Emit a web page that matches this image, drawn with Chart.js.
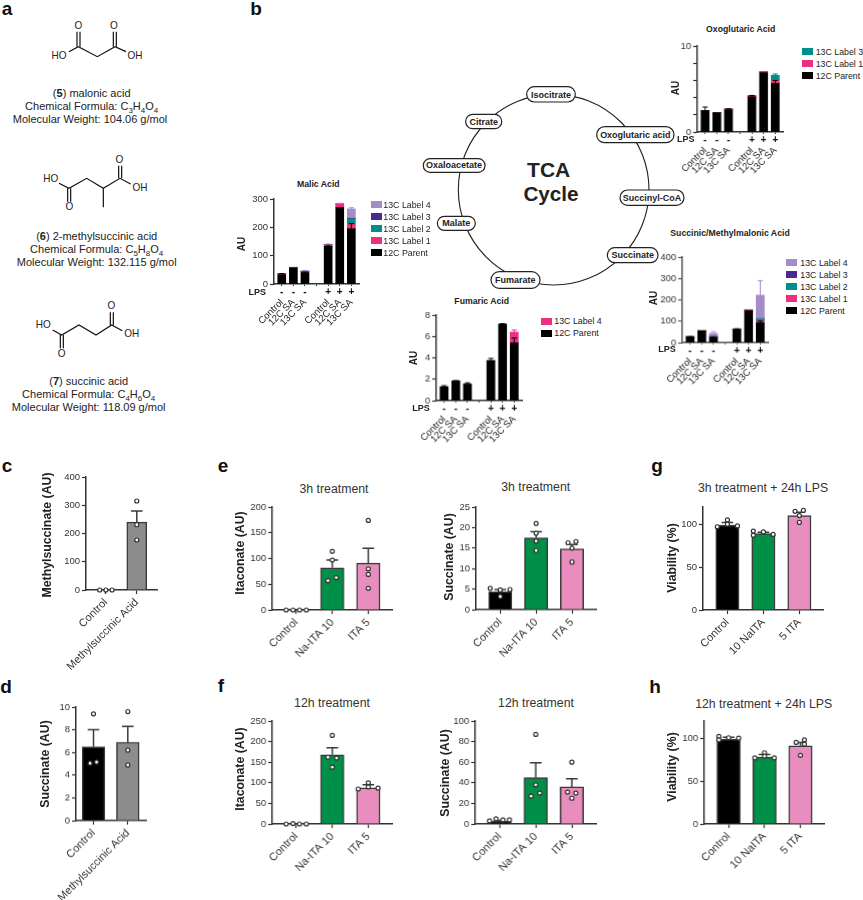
<!DOCTYPE html>
<html>
<head>
<meta charset="utf-8">
<title>Figure</title>
<script src="https://cdn.jsdelivr.net/npm/chart.js@4.4.1/dist/chart.umd.min.js"></script>
<style>
  html, body { margin: 0; padding: 0; background: #fff; overflow: hidden; }
  #page { position: relative; width: 863px; height: 900px; overflow: hidden; font-family: "Liberation Sans", Arial, sans-serif; color: #222; }
  #page canvas { position: absolute; }
  #page svg { position: absolute; left: 0; top: 0; }
  svg text { font-family: "Liberation Sans", Arial, sans-serif; text-anchor: middle; dominant-baseline: central; fill: #222; }
  .lbl { position: absolute; white-space: nowrap; line-height: 1; transform: translate(-50%, -50%); }
  .lbl sub { font-size: 8px; line-height: 0; }
  .swatch { position: absolute; width: 10.5px; height: 7px; }
</style>
</head>
<body>
<div id="page">
  <svg width="863" height="900" viewBox="0 0 863 900">
    <!-- a: структуры, координаты в масштабе 3x -->
    <g transform="scale(0.33333)" fill="none" stroke="#111" stroke-width="3.6">
      <polyline points="207,155 235,140 292,170 345,140 378,155"/>
      <path d="M231,140V95M240,140V95M340,140V95M349,140V95"/>
      <polyline points="177,550 207,565 260,535 310,565 360,535 392,552"/>
      <path d="M203,565V605M212,565V605M356,535V497M365,535V497M310,565V622"/>
      <polyline points="158,990 185,1005 237,975 288,1005 335,975 367,992"/>
      <path d="M181,1005V1045M190,1005V1045M331,975V937M340,975V937"/>
      <g stroke="none" font-size="30">
        <text x="177" y="168">HO</text><text x="405" y="168">OH</text>
        <text x="235" y="76">O</text><text x="342" y="76">O</text>
        <text x="152" y="535">HO</text><text x="420" y="564">OH</text>
        <text x="208" y="621">O</text><text x="358" y="478">O</text>
        <text x="130" y="975">HO</text><text x="395" y="1002">OH</text>
        <text x="185" y="1060">O</text><text x="334" y="918">O</text>
      </g>
    </g>
    <!-- b: цикл TCA -->
    <g transform="translate(420,70) scale(0.33333)">
      <circle cx="401" cy="359" r="286" fill="none" stroke="#222" stroke-width="3.4"/>
      <g fill="#fff" stroke="#222" stroke-width="3.6">
        <rect x="320" y="50" width="146" height="46" rx="23"/>
        <rect x="137" y="133" width="108" height="43" rx="21"/>
        <rect x="530" y="170" width="232" height="48" rx="24"/>
        <rect x="600" y="360" width="192" height="46" rx="23"/>
        <rect x="562" y="533" width="152" height="45" rx="22"/>
        <rect x="213" y="605" width="147" height="50" rx="25"/>
        <rect x="52" y="439" width="114" height="42" rx="21"/>
        <rect x="10" y="266" width="185" height="41" rx="20"/>
      </g>
      <g font-size="27" font-weight="bold">
        <text x="393" y="74">Isocitrate</text>
        <text x="191" y="155">Citrate</text>
        <text x="646" y="194">Oxoglutaric acid</text>
        <text x="696" y="383">Succinyl-CoA</text>
        <text x="638" y="556">Succinate</text>
        <text x="286" y="630">Fumarate</text>
        <text x="109" y="460">Malate</text>
        <text x="102" y="286">Oxaloacetate</text>
      </g>
      <text x="386" y="298" font-size="63" font-weight="bold">TCA</text>
      <text x="393" y="372" font-size="62" font-weight="bold">Cycle</text>
    </g>
  </svg>
</div>

<script>
const FONT = '"Liberation Sans", Arial, sans-serif';

// подписи
const stackLabels = ['Control', '12C SA', '13C SA', '', 'Control', '12C SA', '13C SA'];
const lpsTicks = ['-', '-', '-', '', '+', '+', '+'];
const controlVsAcid = ['Control', 'Methylsuccinic Acid'];
const itaLabels = ['Control', 'Na-ITA 10', 'ITA 5'];
const viabilityLabels = ['Control', '10 NaITA', '5 ITA'];

// цвета серий
const colorParent = '#000000';
const colorLabel1 = '#ee2f7f';
const colorLabel2 = '#00908c';
const colorLabel3 = '#4a2a8e';
const colorLabel4 = '#a58cc6';
const barBlack = '#000000';
const barGray = '#8c8c8c';
const barGreen = '#008f47';
const barPink = '#e88dbd';

// b: Malic Acid
const malicParent = [33, 57, 40, null, 133, 270, 195];
const malicLabel1 = [3, 2, 3, null, 6, 12, 17];
const malicLabel2 = [0, 0, 1, null, 0, 0, 18];
const malicLabel3 = [0, 0, 0, null, 0, 0, 2];
const malicLabel4 = [0, 0, 3, null, 1, 2, 33];
const malicParentErr = [4, 0, 2, null, 5, 0, 18];
const malicLabel4Err = [0, 0, 1, null, 1, 1, 4];

// b: Oxoglutaric Acid
const oxoParent = [2.5, 2.25, 2.6, null, 4.1, 6.9, 5.65];
const oxoLabel1 = [0, 0, 0.1, null, 0.15, 0.15, 0.4];
const oxoLabel3 = [0, 0, 0, null, 0, 0, 0.55];
const oxoParentErr = [0.4, 0, 0.1, null, 0.15, 0, 0.35];
const oxoLabel3Err = [0, 0, 0, null, 0, 0, 0.15];

// b: Fumaric Acid
const fumParent = [1.3, 1.85, 1.55, null, 3.75, 7.15, 5.4];
const fumLabel4 = [0, 0, 0, null, 0, 0, 1.0];
const fumParentErr = [0.1, 0.03, 0.12, null, 0.2, 0.05, 0.45];
const fumLabel4Err = [0, 0, 0, null, 0, 0, 0.2];

// b: Succinic/Methylmalonic Acid
const sucParent = [27, 55, 25, null, 62, 150, 93];
const sucLabel1 = [1, 1, 2, null, 2, 3, 10];
const sucLabel2 = [0, 0, 1, null, 0, 0, 8];
const sucLabel3 = [0, 0, 0, null, 0, 0, 1];
const sucLabel4 = [0, 0, 15, null, 1, 2, 110];
const sucParentErr = [1, 0, 2, null, 3, 0, 8];
const sucLabel4Err = [0, 0, 8, null, 0, 0, 68];

// c
const cValues = [0, 240];
const cErr = [0, 40];
const cPointX = [-0.2, 0, 0.2, 1, 1, 1];
const cPointY = [0, 0, 0, 315, 231, 177];
// d
const dValues = [6.5, 6.9];
const dErr = [1.5, 1.4];
const dPointX = [0, -0.1, 0.09, 1, 1, 1];
const dPointY = [9.4, 5.05, 5.15, 9.6, 6.2, 4.9];
// e слева
const eItaValues = [0, 82, 91];
const eItaErr = [0, 15, 29];
const eItaPointX = [-0.28, -0.09, 0.09, 0.28, 0.88, 1.11, 1, 1, 2, 2, 2, 2];
const eItaPointY = [0, 0, 0, 0, 57, 63, 97, 114, 42, 69, 80, 174];
// e справа
const eSucValues = [4.4, 17.5, 14.8];
const eSucErr = [0.5, 1.5, 1.1];
const eSucPointX = [-0.28, 0, 0, 0.27, 1, 1, 1, 1, 1.89, 2.11, 2, 2];
const eSucPointY = [5.2, 4.8, 3.2, 4.9, 21, 18.6, 16.7, 14.4, 16.3, 16.6, 15, 11.6];
// f слева
const fItaValues = [0, 168, 88];
const fItaErr = [0, 17, 7];
const fItaPointX = [-0.28, -0.09, 0.09, 0.28, 1, 0.88, 1.12, 1, 1.72, 2, 2, 2.27];
const fItaPointY = [0, 1, 0, 0, 215, 162, 160, 138, 85, 100, 90, 87];
// f справа
const fSucValues = [2.5, 45, 36];
const fSucErr = [1, 14.5, 8];
const fSucPointX = [-0.28, -0.1, 0.09, 0.27, 1, 1, 0.87, 1.11, 2, 1.88, 2.11, 2];
const fSucPointY = [3, 5, 4, 4, 87, 38, 27, 30, 60, 31, 30, 25];
// g
const gValues = [99, 89, 110];
const gErr = [3, 1.5, 4];
const gPointX = [-0.28, 0, 0, 0.28, 0.72, 0.72, 1, 1.27, 1.88, 2.11, 2, 2];
const gPointY = [97, 105, 100, 98, 92, 87, 91, 88, 115, 116, 110, 102];
// h
const hValues = [99, 78, 91];
const hErr = [2, 3, 4];
const hPointX = [-0.27, -0.27, 0, 0.28, 0.73, 1, 1, 1.27, 1.88, 2.11, 2.11, 2];
const hPointY = [102, 98, 100.5, 100, 77, 83, 79, 77, 95, 98, 93, 80];

const page = document.getElementById('page');

// Текст поверх страницы, cx/cy - центр подписи
function label(html, cx, cy, style) {
    const el = document.createElement('div');
    el.className = 'lbl';
    el.innerHTML = html;
    el.style.left = cx + 'px';
    el.style.top = cy + 'px';
    el.style.font = style.font;
    el.style.color = style.color || '#222';
    if (style.rotate) {
        el.style.transform = 'translate(-50%, -50%) rotate(-90deg)';
    }
    page.appendChild(el);
}

// Легенда справа от диаграмм
function legend(swatchX, textX, firstY, names, colors) {
    names.forEach((name, i) => {
        const y = firstY + i * 12;
        const sw = document.createElement('div');
        sw.className = 'swatch';
        sw.style.left = swatchX + 'px';
        sw.style.top = (y - 3.5) + 'px';
        sw.style.background = colors[i];
        page.appendChild(sw);
        const t = document.createElement('div');
        t.className = 'lbl';
        t.textContent = name;
        t.style.left = textX + 'px';
        t.style.top = y + 'px';
        t.style.transform = 'translate(0, -50%)';
        t.style.font = '8.8px ' + FONT;
        t.style.color = '#222';
        page.appendChild(t);
    });
}

// Планки погрешностей (только вверх), считаются через шкалы графика
function drawErrors(chart) {
    const { ctx, scales } = chart;
    const running = [];
    chart.data.datasets.forEach((ds) => {
        if (!ds.errs) return;
        ds.data.forEach((pt, i) => {
            if (pt.y === null) return;
            running[i] = (running[i] || 0) + pt.y;
            if (!ds.errs[i]) return;
            const x = scales.x.getPixelForValue(pt.x);
            const y0 = scales.y.getPixelForValue(running[i]);
            const y1 = scales.y.getPixelForValue(running[i] + ds.errs[i]);
            ctx.save();
            ctx.strokeStyle = ds.errColor;
            ctx.lineWidth = ds.errWidth;
            ctx.beginPath();
            ctx.moveTo(x, y0);
            ctx.lineTo(x, y1);
            ctx.moveTo(x - ds.capHalf, y1);
            ctx.lineTo(x + ds.capHalf, y1);
            ctx.stroke();
            ctx.restore();
        });
    });
}

Chart.register({
    id: 'errorBars',
    beforeDatasetDraw(chart, args) {
        if (args.meta.type === 'scatter') drawErrors(chart);
    },
    afterDatasetsDraw(chart) {
        if (chart.config.options.stackedPanel) drawErrors(chart);
    }
});

// Холст такого размера, чтобы область графика совпала с box [x0, top, x1, bottom]
function makeCanvas(box, leftSpace, bottomSpace) {
    const canvas = document.createElement('canvas');
    const width = leftSpace + (box[2] - box[0]) + 8;
    const height = 6 + (box[3] - box[1]) + bottomSpace;
    canvas.width = width;
    canvas.height = height;
    canvas.style.left = (box[0] - leftSpace) + 'px';
    canvas.style.top = (box[1] - 6) + 'px';
    canvas.style.width = width + 'px';
    canvas.style.height = height + 'px';
    page.appendChild(canvas);
    return canvas;
}

function fixedBox(prop, size) {
    return (scale) => {
        scale[prop] = size;
        scale.paddingLeft = 0;
        scale.paddingRight = 0;
        scale.paddingTop = 0;
        scale.paddingBottom = 0;
    };
}

// Целые позиции категорий на линейной оси x
function categoryTicks(count) {
    return (scale) => {
        scale.ticks = [];
        for (let i = 0; i < count; i++) scale.ticks.push({ value: i });
    };
}

function yScale(cfg, fontSize, axisColor, stacked) {
    return {
        type: 'linear',
        stacked: stacked,
        min: 0,
        max: cfg.yMax,
        afterFit: fixedBox('width', cfg.leftSpace),
        border: { color: axisColor, width: 1.5 },
        grid: { drawOnChartArea: false, tickColor: axisColor, tickLength: 4, tickWidth: 1.2 },
        ticks: {
            stepSize: cfg.yStep,
            includeBounds: false,
            padding: 2,
            color: '#333',
            font: { family: FONT, size: fontSize },
            callback: (v) => (cfg.yLabelStep && v % cfg.yLabelStep !== 0 ? '' : v)
        }
    };
}

// Одиночный столбчатый график с точками (панели c-h)
function barPanel(cfg) {
    const axisColor = '#333';
    const canvas = makeCanvas(cfg.box, cfg.leftSpace, cfg.bottomSpace);
    new Chart(canvas, {
        type: 'bar',
        data: {
            datasets: [
                {
                    type: 'scatter',
                    order: 0,
                    clip: false,
                    data: cfg.pointX.map((x, i) => ({ x: x, y: cfg.pointY[i] })),
                    pointRadius: 2,
                    pointBackgroundColor: '#fff',
                    pointBorderColor: '#333',
                    pointBorderWidth: 1.2
                },
                {
                    type: 'bar',
                    order: 1,
                    data: cfg.values.map((v, i) => ({ x: i, y: v })),
                    backgroundColor: cfg.colors,
                    borderColor: '#3a3a3a',
                    borderWidth: 1.5,
                    barThickness: cfg.barWidth,
                    errs: cfg.errs,
                    errColor: '#3a3a3a',
                    errWidth: 1.5,
                    capHalf: 5.8
                }
            ]
        },
        options: {
            responsive: false,
            animation: false,
            devicePixelRatio: 1,
            layout: { padding: { top: 6, right: 8, left: 0, bottom: 0 } },
            plugins: { legend: { display: false }, tooltip: { enabled: false } },
            scales: {
                x: {
                    type: 'linear',
                    offset: false,
                    bounds: 'data',
                    min: cfg.xMin,
                    max: cfg.xMax,
                    afterBuildTicks: categoryTicks(cfg.labels.length),
                    afterFit: fixedBox('height', cfg.bottomSpace),
                    border: { color: axisColor, width: 1.5 },
                    grid: { offset: false, drawOnChartArea: false, tickColor: axisColor, tickLength: 4, tickWidth: 1.2 },
                    ticks: {
                        autoSkip: false,
                        maxRotation: 45,
                        minRotation: 45,
                        padding: 2,
                        color: '#333',
                        font: { family: FONT, size: 11 },
                        callback: (v) => cfg.labels[v]
                    }
                },
                y: yScale(cfg, 9.5, axisColor, false)
            }
        }
    });
}

// Составные столбики панели b: нижняя ось с -/+ и повёрнутые подписи под ней
function stackPanel(cfg) {
    const canvas = makeCanvas(cfg.box, cfg.leftSpace, cfg.bottomSpace);
    const axisColor = cfg.axisColor || '#333';
    new Chart(canvas, {
        type: 'bar',
        data: {
            datasets: cfg.series.map((s) => ({
                xAxisID: 'x',
                yAxisID: 'y',
                data: s.values.map((v, i) => ({ x: i, y: v })),
                backgroundColor: s.color,
                barThickness: 8,
                errs: s.errs || s.values.map(() => 0),
                errColor: s.color,
                errWidth: 1,
                capHalf: 2.6
            }))
        },
        options: {
            stackedPanel: true,
            responsive: false,
            animation: false,
            devicePixelRatio: 1,
            layout: { padding: { top: 6, right: 8, left: 0, bottom: 0 } },
            plugins: { legend: { display: false }, tooltip: { enabled: false } },
            scales: {
                xLps: {
                    type: 'linear',
                    position: 'bottom',
                    weight: 0,
                    offset: false,
                    bounds: 'data',
                    min: -0.67,
                    max: 6.66,
                    afterBuildTicks: categoryTicks(lpsTicks.length),
                    afterFit: fixedBox('height', 13),
                    border: { color: axisColor, width: 1.5 },
                    grid: { offset: false, drawOnChartArea: false, tickColor: axisColor, tickLength: 2, tickWidth: 1 },
                    ticks: {
                        autoSkip: false,
                        maxRotation: 0,
                        minRotation: 0,
                        padding: 0,
                        color: '#111',
                        font: { family: FONT, size: 10, weight: 'bold' },
                        callback: (v) => lpsTicks[v]
                    }
                },
                x: {
                    type: 'linear',
                    position: 'bottom',
                    weight: 1,
                    stacked: true,
                    offset: false,
                    bounds: 'data',
                    min: -0.67,
                    max: 6.66,
                    afterBuildTicks: categoryTicks(stackLabels.length),
                    afterFit: fixedBox('height', cfg.bottomSpace - 13),
                    border: { display: false },
                    grid: { offset: false, display: false, drawTicks: false },
                    ticks: {
                        autoSkip: false,
                        maxRotation: 45,
                        minRotation: 45,
                        padding: 0,
                        color: '#222',
                        font: { family: FONT, size: 9.5 },
                        callback: (v) => stackLabels[v]
                    }
                },
                y: yScale(cfg, 9.5, axisColor, true)
            }
        }
    });
}

// b: четыре составных графика
stackPanel({
    box: [274, 199, 359, 284], leftSpace: 36, bottomSpace: 60, yMax: 300, yStep: 100,
    series: [
        { values: malicParent, errs: malicParentErr, color: colorParent },
        { values: malicLabel1, color: colorLabel1 },
        { values: malicLabel2, color: colorLabel2 },
        { values: malicLabel3, color: colorLabel3 },
        { values: malicLabel4, errs: malicLabel4Err, color: colorLabel4 }
    ]
});
stackPanel({
    box: [697.3, 45.7, 782.7, 131.7], leftSpace: 36, bottomSpace: 60, yMax: 10, yStep: 1, yLabelStep: 5,
    series: [
        { values: oxoParent, errs: oxoParentErr, color: colorParent },
        { values: oxoLabel1, color: colorLabel1 },
        { values: oxoLabel3, errs: oxoLabel3Err, color: colorLabel2 }
    ]
});
stackPanel({
    box: [436, 315, 521.7, 400.7], leftSpace: 36, bottomSpace: 60, yMax: 8, yStep: 2,
    series: [
        { values: fumParent, errs: fumParentErr, color: colorParent },
        { values: fumLabel4, errs: fumLabel4Err, color: colorLabel1 }
    ]
});
stackPanel({
    box: [682, 257, 767.7, 342.7], leftSpace: 36, bottomSpace: 60, yMax: 400, yStep: 100, axisColor: '#555',
    series: [
        { values: sucParent, errs: sucParentErr, color: colorParent },
        { values: sucLabel1, color: colorLabel1 },
        { values: sucLabel2, color: colorLabel2 },
        { values: sucLabel3, color: colorLabel3 },
        { values: sucLabel4, errs: sucLabel4Err, color: colorLabel4 }
    ]
});

// c, d
barPanel({
    box: [86, 476.7, 157.3, 590.3], leftSpace: 40, bottomSpace: 90, xMin: -0.645, xMax: 1.655,
    yMax: 400, yStep: 100, barWidth: 20, labels: controlVsAcid, values: cValues, errs: cErr,
    colors: [barBlack, barGray], pointX: cPointX, pointY: cPointY
});
barPanel({
    box: [75.7, 707.3, 146, 820.7], leftSpace: 40, bottomSpace: 90, xMin: -0.51, xMax: 1.53,
    yMax: 10, yStep: 2, barWidth: 22.7, labels: controlVsAcid, values: dValues, errs: dErr,
    colors: [barBlack, barGray], pointX: dPointX, pointY: dPointY
});

// e, f
barPanel({
    box: [272, 506.7, 391.7, 610], leftSpace: 40, bottomSpace: 70, xMin: -0.667, xMax: 2.658,
    yMax: 200, yStep: 50, barWidth: 23.3, labels: itaLabels, values: eItaValues, errs: eItaErr,
    colors: [barBlack, barGreen, barPink], pointX: eItaPointX, pointY: eItaPointY
});
barPanel({
    box: [476, 507.3, 596, 610.3], leftSpace: 40, bottomSpace: 70, xMin: -0.677, xMax: 2.669,
    yMax: 25, yStep: 5, barWidth: 23.3, labels: itaLabels, values: eSucValues, errs: eSucErr,
    colors: [barBlack, barGreen, barPink], pointX: eSucPointX, pointY: eSucPointY
});
barPanel({
    box: [272, 720.7, 391.7, 823.7], leftSpace: 40, bottomSpace: 70, xMin: -0.667, xMax: 2.658,
    yMax: 250, yStep: 50, barWidth: 23.3, labels: itaLabels, values: fItaValues, errs: fItaErr,
    colors: [barBlack, barGreen, barPink], pointX: fItaPointX, pointY: fItaPointY
});
barPanel({
    box: [475.3, 720.7, 596, 823.7], leftSpace: 40, bottomSpace: 70, xMin: -0.677, xMax: 2.669,
    yMax: 100, yStep: 20, barWidth: 23.3, labels: itaLabels, values: fSucValues, errs: fSucErr,
    colors: [barBlack, barGreen, barPink], pointX: fSucPointX, pointY: fSucPointY
});

// g, h
barPanel({
    box: [703.3, 506.8, 823.3, 610], leftSpace: 40, bottomSpace: 70, xMin: -0.678, xMax: 2.656,
    yMax: 120, yStep: 50, barWidth: 23.3, labels: viabilityLabels, values: gValues, errs: gErr,
    colors: [barBlack, barGreen, barPink], pointX: gPointX, pointY: gPointY
});
barPanel({
    box: [704.3, 720.5, 824, 823.7], leftSpace: 40, bottomSpace: 70, xMin: -0.678, xMax: 2.656,
    yMax: 120, yStep: 50, barWidth: 23.3, labels: viabilityLabels, values: hValues, errs: hErr,
    colors: [barBlack, barGreen, barPink], pointX: hPointX, pointY: hPointY
});

// Буквы панелей
const letterFont = 'bold 19px ' + FONT;
[['a', 7, 9], ['b', 256, 9], ['c', 7, 466], ['d', 6, 687], ['e', 223, 466], ['f', 221, 686], ['g', 657, 466], ['h', 655, 687]]
    .forEach((p) => label(p[0], p[1], p[2], { font: letterFont, color: '#111' }));

// Подписи соединений панели a
const infoFont = '11px ' + FONT;
label('(<b>5</b>) malonic acid', 91.7, 92.7, { font: infoFont });
label('Chemical Formula: C<sub>3</sub>H<sub>4</sub>O<sub>4</sub>', 91.7, 106, { font: infoFont });
label('Molecular Weight: 104.06 g/mol', 90, 119, { font: infoFont });
label('(<b>6</b>) 2-methylsuccinic acid', 96.7, 235.7, { font: infoFont });
label('Chemical Formula: C<sub>5</sub>H<sub>8</sub>O<sub>4</sub>', 96.7, 249, { font: infoFont });
label('Molecular Weight: 132.115 g/mol', 96.7, 262, { font: infoFont });
label('(<b>7</b>) succinic acid', 88.7, 381.3, { font: infoFont });
label('Chemical Formula: C<sub>4</sub>H<sub>6</sub>O<sub>4</sub>', 88.7, 394.3, { font: infoFont });
label('Molecular Weight: 118.09 g/mol', 88.7, 407.3, { font: infoFont });

// Панель b: заголовки, оси, LPS, легенды
const stackTitle = 'bold 8.7px ' + FONT;
const auFont = 'bold 10px ' + FONT;
const lpsFont = 'bold 9px ' + FONT;
label('Malic Acid', 318.3, 183.7, { font: stackTitle });
label('Oxoglutaric Acid', 740.7, 29, { font: stackTitle });
label('Fumaric Acid', 481.7, 300.7, { font: stackTitle });
label('Succinic/Methylmalonic Acid', 730, 232.7, { font: stackTitle });
label('AU', 241, 244, { font: auFont, rotate: true });
label('AU', 674.7, 87.7, { font: auFont, rotate: true });
label('AU', 413, 358, { font: auFont, rotate: true });
label('AU', 652.7, 298, { font: auFont, rotate: true });
label('LPS', 257.3, 292.3, { font: lpsFont });
label('LPS', 685.7, 139.3, { font: lpsFont });
label('LPS', 421, 408.3, { font: lpsFont });
label('LPS', 667, 349, { font: lpsFont });
legend(371.3, 383.3, 204.7, ['13C Label 4', '13C Label 3', '13C Label 2', '13C Label 1', '12C Parent'], [colorLabel4, colorLabel3, colorLabel2, colorLabel1, colorParent]);
legend(802, 815.7, 51.7, ['13C Label 3', '13C Label 1', '12C Parent'], [colorLabel2, colorLabel1, colorParent]);
legend(541, 554.3, 321, ['13C Label 4', '12C Parent'], [colorLabel1, colorParent]);
legend(786.3, 800.3, 262.7, ['13C Label 4', '13C Label 3', '13C Label 2', '13C Label 1', '12C Parent'], [colorLabel4, colorLabel3, colorLabel2, colorLabel1, colorParent]);

// Панели c-h: заголовки и подписи осей
const axisTitle = 'bold 12.3px ' + FONT;
const panelTitle = '12.3px ' + FONT;
label('Methylsuccinate (AU)', 47.3, 535, { font: axisTitle, rotate: true });
label('Succinate (AU)', 45, 764, { font: axisTitle, rotate: true });
label('Itaconate (AU)', 240, 553.3, { font: axisTitle, rotate: true });
label('Succinate (AU)', 448.7, 557, { font: axisTitle, rotate: true });
label('Itaconate (AU)', 240, 769, { font: axisTitle, rotate: true });
label('Succinate (AU)', 445, 773, { font: axisTitle, rotate: true });
label('Viability (%)', 672.3, 557.5, { font: axisTitle, rotate: true });
label('Viability (%)', 672, 767, { font: axisTitle, rotate: true });
label('3h treatment', 334, 488.7, { font: panelTitle, color: '#333' });
label('3h treatment', 535.7, 487.3, { font: panelTitle, color: '#333' });
label('12h treatment', 332, 702.7, { font: panelTitle, color: '#333' });
label('12h treatment', 536, 702.7, { font: panelTitle, color: '#333' });
label('3h treatment + 24h LPS', 763, 487.7, { font: panelTitle, color: '#333' });
label('12h treatment + 24h LPS', 763.7, 703.7, { font: panelTitle, color: '#333' });
</script>
</body>
</html>
